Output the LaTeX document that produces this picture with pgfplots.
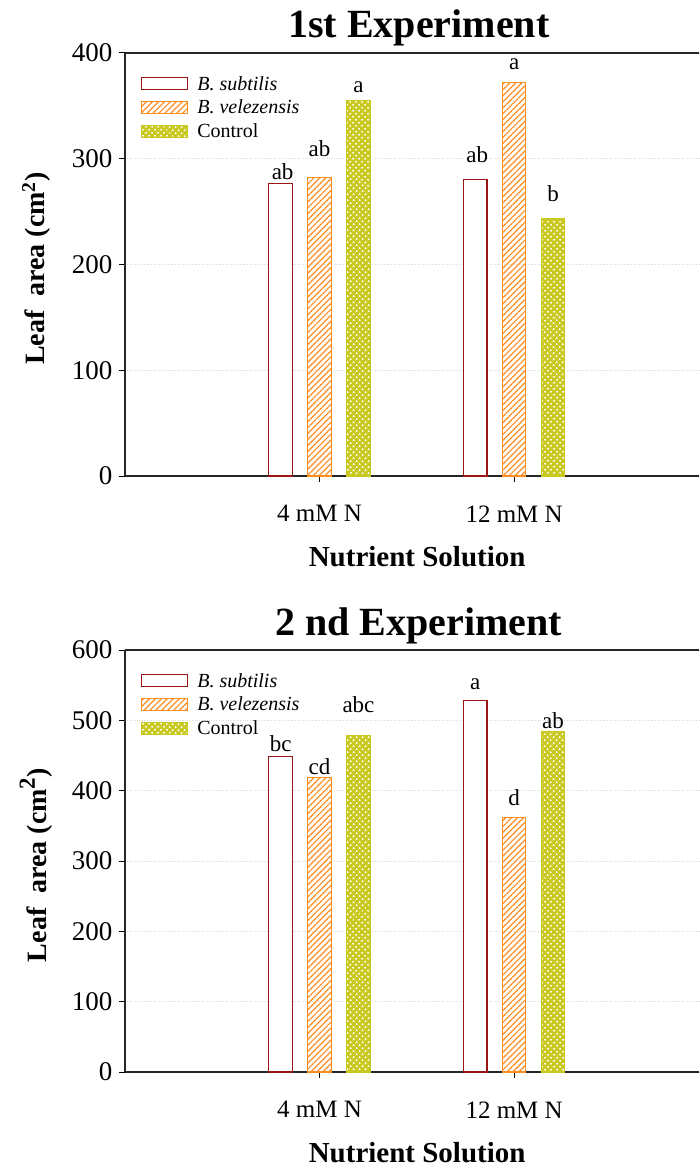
\documentclass[border=0pt]{standalone}
\usepackage{fontspec}
\setmainfont{Liberation Serif}
\usepackage{pgfplots}
\pgfplotsset{compat=1.18}
\usetikzlibrary{patterns.meta}

\definecolor{subt}{RGB}{155,20,20}
\definecolor{vel}{RGB}{255,140,30}
\definecolor{ctrl}{RGB}{200,200,30}

\pgfplotsset{
 myaxis/.style={
  scale only axis, width=574pt,
  xmin=0, xmax=2.95,
  axis x line*=box, axis y line*=left,
  xtick={1,2}, xticklabels={4 mM N, 12 mM N},
  xtick pos=bottom, ytick pos=left,
  tick align=outside, major tick length=6pt,
  ymajorgrids, major grid style={dotted, gray!30, line width=0.8pt},
  axis line style={line width=1.3pt, black!85},
  tick style={line width=1pt, black},
  xticklabel style={font=\fontsize{25}{30}\selectfont, yshift=-20pt},
  yticklabel style={font=\fontsize{27}{32}\selectfont, xshift=-3pt},
  /pgf/number format/assume math mode=true,
  xlabel={\textbf{Nutrient Solution}},
  xlabel style={font=\fontsize{29}{34}\selectfont, at={(axis description cs:0.509,0)}, anchor=center, yshift=-81pt},
  ylabel style={font=\fontsize{28}{33}\selectfont, at={(axis description cs:-0.155,0.49)}, anchor=center},
  title style={font=\fontsize{40}{46}\selectfont, at={(axis description cs:0.512,1)}, anchor=base, yshift=9pt},
  legend cell align=left,
  legend style={at={(axis description cs:0,1)}, anchor=north west, xshift=16pt, yshift=-22pt,
    draw=none, fill=none, font=\fontsize{20}{23}\selectfont, row sep=6.5pt, inner sep=0pt,
    nodes={inner sep=1pt},
    /tikz/every odd column/.append style={column sep=8pt}},
  legend image code/.code={\draw[##1] (0pt,-6pt) rectangle (46pt,6pt);},
 },
 sub/.style={ybar, bar width=0.121, bar shift=-0.2, draw=subt, fill=white, line width=1.1pt},
 vele/.style={ybar, bar width=0.121, bar shift=0, draw=vel, line width=1.1pt,
    pattern={Lines[angle=45,distance=4.2pt,line width=1.2pt]}, pattern color=vel},
 ctl/.style={ybar, bar width=0.121, bar shift=0.2, draw=ctrl, fill=ctrl, line width=1.1pt,
    postaction={pattern={Dots[distance=4pt,radius=1.15pt,angle=45]}, pattern color=white}},
 lab/.style={only marks, mark=none, forget plot, nodes near coords, point meta=explicit symbolic,
    nodes near coords style={anchor=base, font=\fontsize{23}{27}\selectfont, inner sep=0pt}},
}

\begin{document}
\begin{tikzpicture}
\useasboundingbox (0,0) rectangle (699pt,-1169pt);

\begin{axis}[myaxis, at={(125pt,-53pt)}, anchor=north west, height=423pt,
  ymin=0, ymax=400, ytick={0,100,200,300,400},
  title={\textbf{1st Experiment}},
  ylabel={\textbf{Leaf\ \ area (cm\textsuperscript{2})}}]
\addplot[sub] coordinates {(1,277) (2,280)};
\addplot[vele] coordinates {(1,282) (2,372)};
\addplot[ctl] coordinates {(1,355) (2,243)};
\addplot[lab] coordinates {(0.81,280.6)[ab] (1,302.6)[ab] (1.2,362.8)[a] (1.81,296)[ab] (2,384.6)[a] (2.2,259.4)[b]};
\legend{\textit{B. subtilis}, \textit{B. velezensis}, Control}
\end{axis}

\begin{axis}[myaxis, at={(125pt,-650pt)}, anchor=north west, height=422pt,
  ymin=0, ymax=600, ytick={0,100,200,300,400,500,600},
  title={\textbf{2 nd Experiment}},
  ylabel={\textbf{Leaf\ \ area (cm\raisebox{0.42em}{\fontsize{23}{23}\selectfont 2})}}]
\addplot[sub] coordinates {(1,449) (2,528)};
\addplot[vele] coordinates {(1,419) (2,362)};
\addplot[ctl] coordinates {(1,479) (2,484)};
\addplot[lab] coordinates {(0.8,455.4)[bc] (1,422.3)[cd] (1.2,511)[abc] (1.8,544)[a] (2,378.6)[d] (2.2,488.7)[ab]};
\legend{\textit{B. subtilis}, \textit{B. velezensis}, Control}
\end{axis}
\end{tikzpicture}
\end{document}
